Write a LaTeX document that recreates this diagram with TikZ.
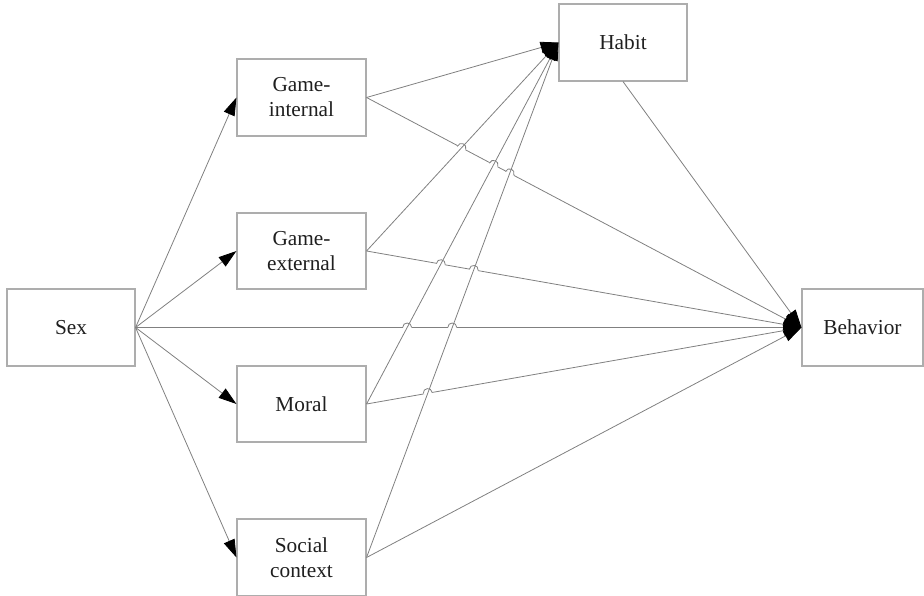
\documentclass[tikz,border=0pt]{standalone}
\usepackage{fontspec}
\setmainfont{Liberation Serif}
\usetikzlibrary{arrows.meta,calc,intersections}

% line hop: a small bump on the line from #2 to #3 where it crosses another at #1
\newcommand\linehop[3]{%
  \draw[white, line width=2.2pt] ($(#1)!4.5pt!(#2)$) -- ($(#1)!4.5pt!(#3)$);
  \draw[conn] ($(#1)!4.5pt!(#2)$) to[bend left=90, looseness=1.7] ($(#1)!4.5pt!(#3)$);%
}

\begin{document}
\begin{tikzpicture}[x=1pt, y=-1pt,
  box/.style={draw=black!32, line width=1.1pt, fill=white, align=center,
    text=black!88, font=\fontsize{21.3}{25}\selectfont, inner sep=0pt,
    minimum width=128pt, minimum height=77pt},
  conn/.style={draw=black!50, line width=0.8pt},
  arr/.style={conn, -{Triangle[length=18pt, width=11.5pt, color=black]}},
]
\useasboundingbox (0,0) rectangle (924,596);

% boxes
\node[box] (sex)   at (71,327.5)   {Sex};
\node[box, minimum width=129pt] (gi) at (301.5,97.5)  {Game-\\internal};
\node[box, minimum width=129pt, minimum height=76pt] (ge) at (301.5,251) {Game-\\external};
\node[box, minimum width=129pt, minimum height=76pt] (mo) at (301.5,404) {Moral};
\node[box, minimum width=129pt] (sc) at (301.5,557.5) {Social\\context};
\node[box] (habit) at (623,42.5)   {Habit};
\node[box, minimum width=121pt] (beh) at (862.5,327.5) {Behavior};

% paths used to find the crossings
\path[name path=hge] (ge.east) -- (habit.west);
\path[name path=hmo] (mo.east) -- (habit.west);
\path[name path=hsc] (sc.east) -- (habit.west);
\path[name path=bgi] (gi.east) -- (beh.west);
\path[name path=bge] (ge.east) -- (beh.west);
\path[name path=bsx] (sex.east) -- (beh.west);
\path[name path=bmo] (mo.east) -- (beh.west);

\path[name intersections={of=bgi and hge, by=x1}];
\path[name intersections={of=bgi and hmo, by=x2}];
\path[name intersections={of=bgi and hsc, by=x3}];
\path[name intersections={of=bge and hmo, by=x4}];
\path[name intersections={of=bge and hsc, by=x5}];
\path[name intersections={of=bsx and hmo, by=x6}];
\path[name intersections={of=bsx and hsc, by=x7}];
\path[name intersections={of=bmo and hsc, by=x8}];

% paths into Behavior
\draw[arr] (gi.east)  -- (beh.west);
\draw[arr] (ge.east)  -- (beh.west);
\draw[arr] (sex.east) -- (beh.west);
\draw[arr] (mo.east)  -- (beh.west);
\draw[arr] (sc.east)  -- (beh.west);
\draw[arr] (habit.south) -- (beh.west);

% hops over the paths into Habit
\linehop{x1}{gi}{beh}
\linehop{x2}{gi}{beh}
\linehop{x3}{gi}{beh}
\linehop{x4}{ge}{beh}
\linehop{x5}{ge}{beh}
\linehop{x6}{sex}{beh}
\linehop{x7}{sex}{beh}
\linehop{x8}{mo}{beh}

% paths into Habit
\draw[arr] (gi.east) -- (habit.west);
\draw[arr] (ge.east) -- (habit.west);
\draw[arr] (mo.east) -- (habit.west);
\draw[arr] (sc.east) -- (habit.west);

% paths from Sex
\draw[arr] (sex.east) -- (gi.west);
\draw[arr] (sex.east) -- (ge.west);
\draw[arr] (sex.east) -- (mo.west);
\draw[arr] (sex.east) -- (sc.west);
\end{tikzpicture}
\end{document}
